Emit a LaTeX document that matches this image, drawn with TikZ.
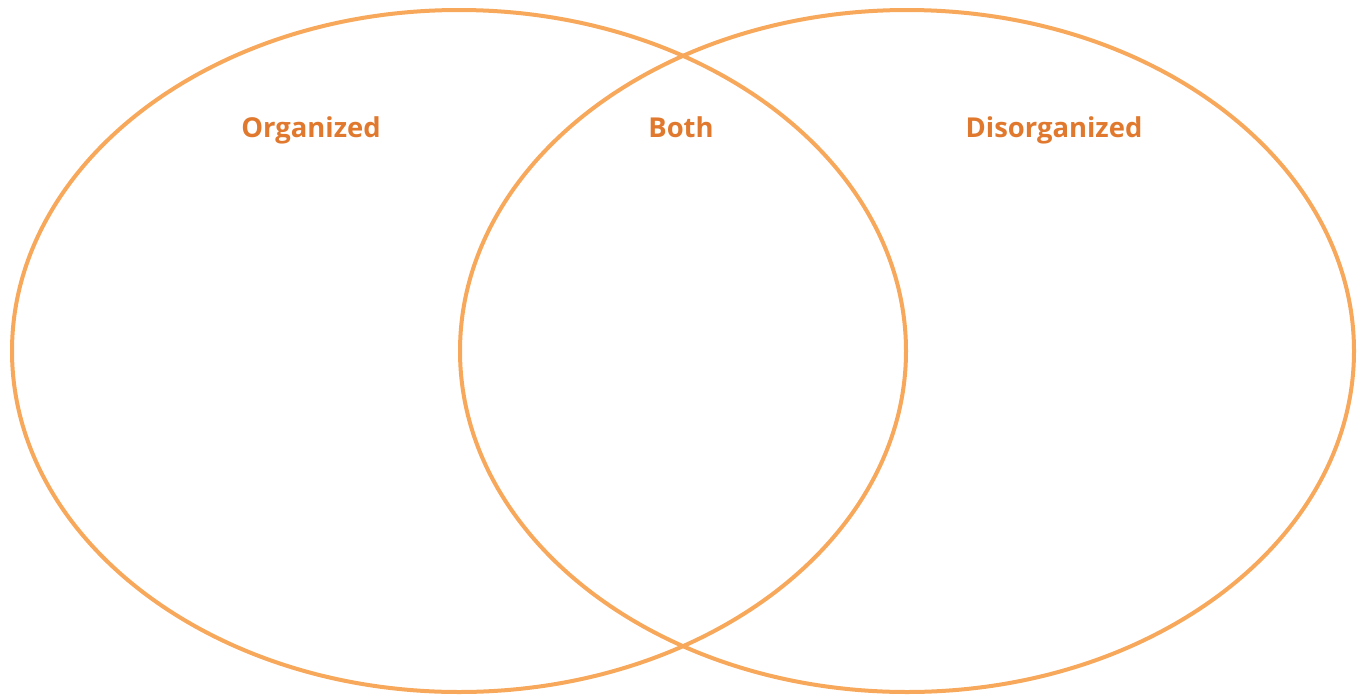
\documentclass[tikz,border=0pt]{standalone}
\usepackage{fontspec}
\setmainfont{Open Sans}
\usepackage{tikz}
\usetikzlibrary{positioning}
\definecolor{ringorange}{RGB}{247,168,90}
\definecolor{textorange}{RGB}{224,121,46}

\begin{document}
\begin{tikzpicture}[x=1pt,y=-1pt,
ring/.style={draw=ringorange,line width=4pt},
label/.style={text=textorange,font=\bfseries\fontsize{27.4}{30}\selectfont,inner sep=0pt,anchor=base}]
\useasboundingbox (0,0) rectangle (1363,697);
\draw[ring] (459,351) ellipse [x radius=447,y radius=341];
\draw[ring] (907,351) ellipse [x radius=447,y radius=341];
\node[label] (org) at (311,137){Organized};
\node[label] (both) at (681,137){Both};
\node[label] (disorg) at (1054,137){Disorganized};
\end{tikzpicture}
\end{document}
